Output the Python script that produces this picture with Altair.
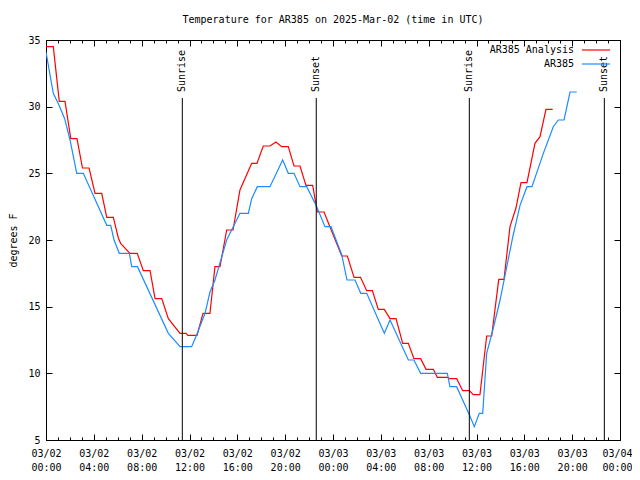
import altair as alt
import pandas as pd

FONT = "DejaVu Sans Mono"
START = "2025-03-02T00:00:00Z"

title_text = "Temperature for AR385 on 2025-Mar-02 (time in UTC)"
y_title = "degrees F"
series_names = ["AR385 Analysis", "AR385"]
series_colors = ["#ff0000", "#1c8cff"]

# hours after 2025-03-02 00:00 UTC
analysis_hours = [0.00, 0.61, 1.11, 1.59, 2.07, 2.59, 3.05, 3.60, 4.10, 4.66,
                  5.08, 5.63, 6.05, 6.24, 7.02, 7.63, 8.14, 8.70, 9.12, 9.68,
                  10.23, 11.21, 11.71, 11.87, 12.63, 13.13, 13.71, 14.13, 14.55, 15.11,
                  15.64, 16.22, 17.20, 17.64, 18.17, 18.73, 19.23, 19.71, 20.26, 20.74,
                  21.24, 21.74, 22.30, 22.69, 23.25, 23.69, 24.73, 25.20, 25.76, 26.30,
                  26.82, 27.29, 27.79, 28.29, 28.77, 29.27, 29.83, 30.30, 30.77, 31.33,
                  31.78, 32.39, 32.72, 33.56, 33.78, 34.34, 34.85, 35.40, 35.73, 36.29,
                  36.85, 37.27, 37.86, 38.30, 38.80, 39.30, 39.72, 40.22, 40.89, 41.31,
                  41.81, 42.37]
analysis_temps = [34.5, 34.5, 30.4, 30.4, 27.6, 27.6, 25.4, 25.4, 23.5, 23.5,
                  21.7, 21.7, 20.15, 19.75, 19.0, 19.0, 17.7, 17.7, 15.6, 15.6,
                  14.1, 13.0, 13.0, 12.85, 12.85, 14.5, 14.5, 18.0, 18.0, 20.75,
                  20.75, 23.75, 25.75, 25.75, 27.05, 27.05, 27.35, 27.0, 27.0, 25.55,
                  25.55, 24.1, 24.1, 22.1, 22.1, 21.1, 18.8, 18.8, 17.2, 17.2,
                  16.2, 16.2, 14.8, 14.8, 14.1, 14.1, 12.25, 12.25, 11.1, 11.1,
                  10.3, 10.3, 9.7, 9.7, 9.6, 9.6, 8.7, 8.7, 8.4, 8.4,
                  12.8, 12.8, 17.05, 17.05, 21.0, 22.4, 24.3, 24.3, 27.25, 27.75,
                  29.8, 29.8]

obs_hours = [0.00, 0.61, 1.09, 1.56, 2.01, 2.57, 3.12, 5.08, 5.41, 5.69,
             6.13, 6.97, 7.17, 7.65, 10.23, 11.21, 12.18, 12.60, 13.30, 13.71,
             14.13, 15.11, 15.66, 16.22, 16.92, 17.20, 17.67, 18.73, 19.79, 20.26,
             20.74, 21.24, 21.80, 22.64, 23.33, 23.83, 24.73, 25.17, 25.84, 26.32,
             26.82, 28.29, 28.77, 30.30, 30.77, 31.33, 33.56, 33.78, 34.34, 35.40,
             35.82, 36.23, 36.52, 36.85, 37.41, 37.97, 39.05, 39.64, 40.22, 40.64,
             41.59, 42.42, 42.84, 43.32, 43.82, 44.38]
obs_temps = [34.1, 31.0, 30.1, 29.1, 27.5, 25.0, 25.0, 21.1, 21.1, 20.0,
             19.0, 19.0, 18.0, 18.0, 13.0, 12.0, 12.0, 12.9, 14.5, 16.1,
             17.0, 20.0, 21.0, 22.0, 22.0, 23.1, 24.0, 24.0, 26.0, 25.0,
             25.0, 24.0, 24.0, 22.5, 21.0, 21.0, 18.9, 17.0, 17.0, 16.0,
             16.0, 13.0, 14.0, 11.0, 11.0, 10.0, 10.0, 9.0, 9.0, 6.9,
             6.0, 7.0, 7.0, 11.5, 13.4, 15.5, 20.3, 22.6, 24.0, 24.0,
             26.5, 28.5, 29.0, 29.0, 31.1, 31.1]

sun_events = ["Sunrise", "Sunset", "Sunrise", "Sunset"]
sun_hours = [11.40, 22.60, 35.40, 46.69]

x_range_hours = [0, 48]
x_major_hours = list(range(0, 49, 4))
x_minor_hours = list(range(0, 49))
y_range = [5, 35]
y_ticks = [5, 10, 15, 20, 25, 30, 35]

T0 = pd.Timestamp(START).value // 10**6
HOUR_MS = 3600000


def ms(h):
    return T0 + h * HOUR_MS


an_df = pd.DataFrame({"t": [ms(h) for h in analysis_hours], "temp": analysis_temps})
ob_df = pd.DataFrame({"t": [ms(h) for h in obs_hours], "temp": obs_temps})
sun_df = pd.DataFrame({"t": [ms(h) for h in sun_hours], "label": sun_events})

xscale = alt.Scale(type="utc", domain=[ms(x_range_hours[0]), ms(x_range_hours[1])])
yscale = alt.Scale(domain=y_range, nice=False, zero=False)

common_axis = dict(grid=False, domain=False, tickColor="black", labelColor="black",
                   title=None)

last_tick = ms(x_major_hours[-1])
ax_bottom_major = alt.Axis(
    orient="bottom", values=[ms(h) for h in x_major_hours], tickSize=6, offset=-6,
    labelExpr="[utcFormat(datum.value, '%m/%d'), utcFormat(datum.value, '%H:%M')]",
    labelFont=FONT, labelFontSize=10, labelPadding=8, labelLineHeight=14,
    labelBaseline="top", labelAlign="center", labelFlush=False, labelOverlap=False,
    labelOffset={"condition": {"test": f"datum.value >= {last_tick}", "value": -3},
                 "value": 0},
    **common_axis)
ax_top_major = alt.Axis(orient="top", values=[ms(h) for h in x_major_hours], tickSize=6,
                        offset=-6, labels=False, **common_axis)
ax_bottom_minor = alt.Axis(orient="bottom", values=[ms(h) for h in x_minor_hours],
                           tickSize=3, offset=-3, labels=False, **common_axis)
ax_top_minor = alt.Axis(orient="top", values=[ms(h) for h in x_minor_hours],
                        tickSize=3, offset=-3, labels=False, **common_axis)

ax_left = alt.Axis(orient="left", values=y_ticks, tickSize=6, offset=-6, grid=False,
                   domain=False, tickColor="black", labelColor="black", labelFont=FONT,
                   labelFontSize=10, labelPadding=6, title=y_title, titleFont=FONT,
                   titleFontSize=10, titleFontWeight="normal", titleColor="black",
                   titlePadding=9)
ax_right = alt.Axis(orient="right", values=y_ticks, tickSize=6, offset=-6, labels=False,
                    **common_axis)


def xenc(axis):
    return alt.X("t:T", scale=xscale, axis=axis)


red = alt.Chart(an_df).mark_line(color=series_colors[0], strokeWidth=1.2, clip=True).encode(
    x=xenc(ax_bottom_major), y=alt.Y("temp:Q", scale=yscale, axis=ax_left))
blue = alt.Chart(ob_df).mark_line(color=series_colors[1], strokeWidth=1.2, clip=True).encode(
    x=xenc(ax_top_major), y=alt.Y("temp:Q", scale=yscale, axis=ax_right))

rules = alt.Chart(sun_df).mark_rule(color="black", strokeWidth=1).encode(
    x=xenc(ax_bottom_minor), y=alt.value(58), y2=alt.value(400))
texts = alt.Chart(sun_df).mark_text(angle=270, align="left", baseline="middle", font=FONT,
                                    fontSize=10, color="black").encode(
    x=xenc(ax_top_minor), y=alt.value(52), text="label:N")

legend_layers = []
for i, (name, col) in enumerate(zip(series_names, series_colors)):
    ldf = pd.DataFrame({"name": [name]})
    legend_layers.append(
        alt.Chart(ldf).mark_text(align="right", baseline="middle", font=FONT, fontSize=10,
                                 color="black").encode(
            text="name:N", x=alt.value(528), y=alt.value(10 + 14 * i)))
    legend_layers.append(
        alt.Chart(ldf).mark_rule(color=col, strokeWidth=1.2).encode(
            x=alt.value(536), x2=alt.value(564), y=alt.value(10 + 14 * i)))

chart = alt.layer(red, blue, rules, texts, *legend_layers).resolve_axis(
    x="independent", y="independent"
).properties(
    width=574, height=400,
    title=alt.TitleParams(title_text, font=FONT, fontSize=10, fontWeight="normal",
                          color="black", anchor="middle", baseline="middle", offset=5),
    padding={"left": 38, "top": 32, "right": 12, "bottom": 32},
    autosize=alt.AutoSizeParams(type="none"),
).configure_view(stroke="black", strokeWidth=1)

chart.save("out.html", embed_options={"renderer": "svg", "actions": False})
